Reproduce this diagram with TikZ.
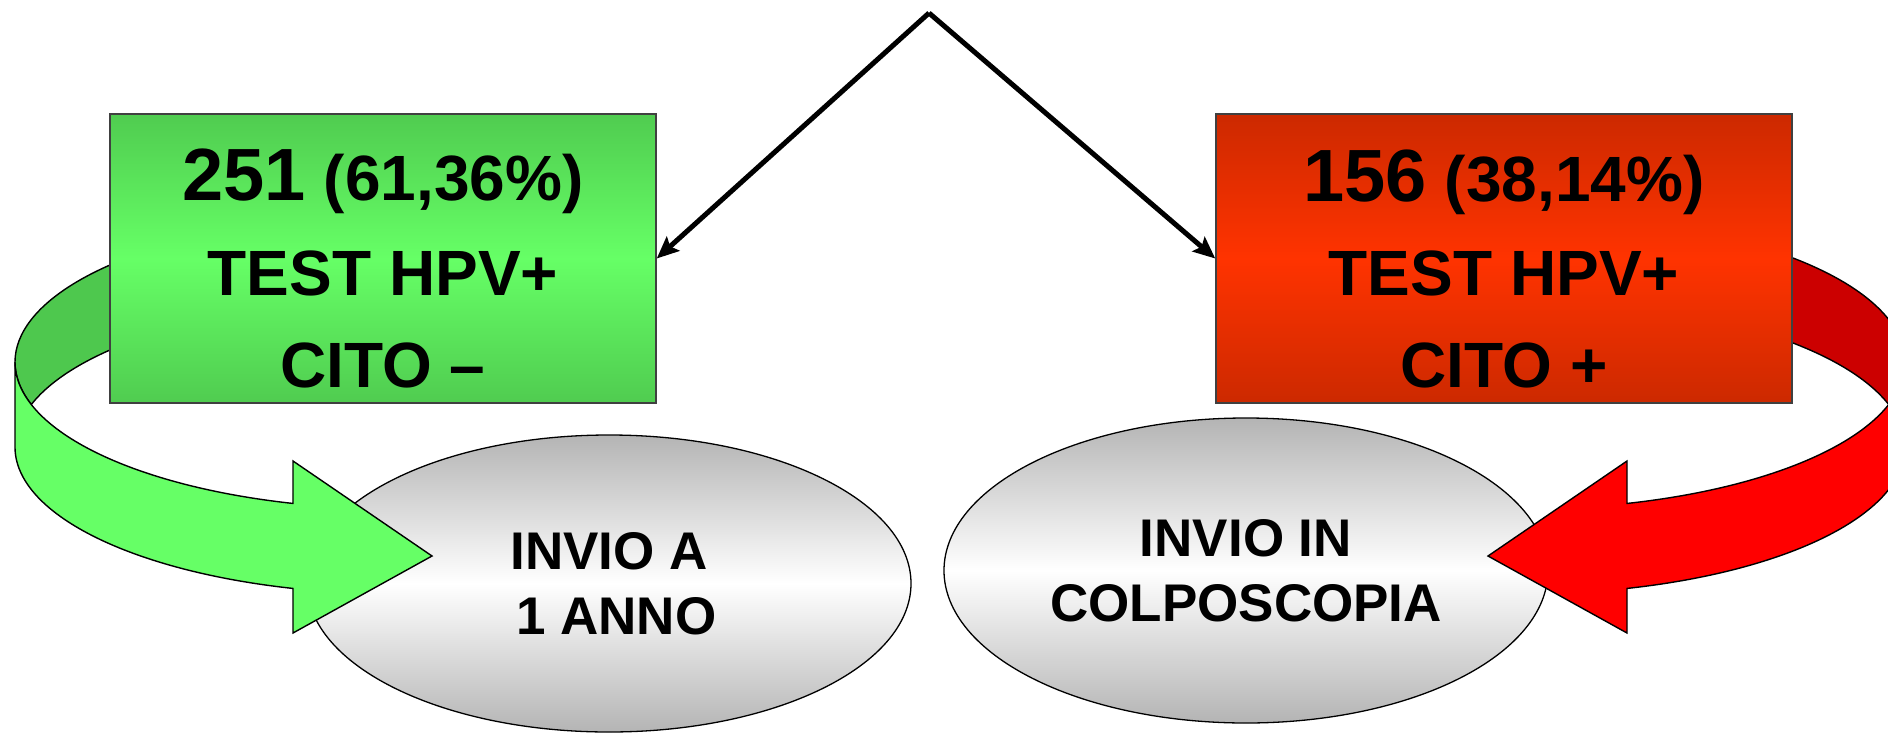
\documentclass[tikz,border=0pt]{standalone}
\usepackage{fontspec}
\setmainfont{Liberation Sans}
\usetikzlibrary{shapes.geometric,arrows.meta,calc}
\definecolor{gtop}{RGB}{80,204,80}
\definecolor{gmid}{RGB}{102,255,102}
\definecolor{gdark}{RGB}{78,200,78}
\definecolor{gfront}{RGB}{102,255,102}
\definecolor{rtop}{RGB}{204,41,0}
\definecolor{rmid}{RGB}{255,51,0}
\definecolor{rdark}{RGB}{204,0,0}
\definecolor{rfront}{RGB}{255,0,0}
\definecolor{elgray}{RGB}{180,180,180}
\begin{document}
\begin{tikzpicture}[x=1pt,y=-1pt,
  box/.style={draw=black!75, line width=1.5pt, rectangle, minimum height=289pt, inner sep=0pt},
  oval/.style={ellipse, draw=black, line width=1.3pt, minimum width=604pt, inner sep=0pt,
    top color=elgray, bottom color=elgray, middle color=white, align=center,
    font=\fontsize{53pt}{64.5pt}\selectfont\bfseries},
  big/.style={font=\fontsize{64pt}{64pt}\selectfont\bfseries, anchor=base, inner sep=0pt},
  ribbon/.style={draw=black, line width=1.4pt, line join=miter},
  conn/.style={line width=5pt, -{Stealth[length=22pt,width=19pt,inset=4pt]}},
  er/.style={x radius=382, y radius=147}
]
\useasboundingbox (0,0) rectangle (1888,734);
\clip (0,0) rectangle (1888,734);

% ribbon centres
\coordinate (LT) at (397,362);
\coordinate (LB) at (397,447);
\coordinate (RT) at (1523,362);
\coordinate (RB) at (1523,447);

% back (dark) faces of the curved arrows
\path[ribbon, fill=gdark] ($(LT)+(230:382 and 147)$) arc[start angle=230, end angle=163.2, er]
  -- ($(LB)+(196.8:382 and 147)$) arc[start angle=196.8, end angle=230, er] -- cycle;
\path[ribbon, fill=rdark] ($(RT)+(-50:382 and 147)$) arc[start angle=-50, end angle=16.8, er]
  -- ($(RB)+(-16.8:382 and 147)$) arc[start angle=-16.8, end angle=-50, er] -- cycle;

% boxes
\node[box, minimum width=546pt, top color=gtop, bottom color=gtop, middle color=gmid] (gbox) at (383,258.5) {};
\node[box, minimum width=576pt, top color=rtop, bottom color=rtop, middle color=rmid] (rbox) at (1504,258.5) {};

% ellipses
\node[oval, minimum height=297pt] (ell1) at (609,583.5) {INVIO A\\\kern0.278em 1 ANNO};
\node[oval, minimum height=305pt] (ell2) at (1246,570.5) {INVIO IN\\COLPOSCOPIA};

% front faces of the curved arrows
\path[ribbon, fill=gfront] ($(LT)+(180:382 and 147)$) arc[start angle=180, end angle=105.8, er]
  -- (293,461) -- (432,556) -- (293,633)
  -- ($(LB)+(105.8:382 and 147)$) arc[start angle=105.8, end angle=180, er] -- cycle;
\path[ribbon, fill=rfront] ($(RT)+(0:382 and 147)$) arc[start angle=0, end angle=74.2, er]
  -- (1627,461) -- (1488,556) -- (1627,633)
  -- ($(RB)+(74.2:382 and 147)$) arc[start angle=74.2, end angle=0, er] -- cycle;

% box texts
\node[big] (g1) at (383,200) {{\fontsize{74pt}{74pt}\selectfont 251} (61,36\%)};
\node[big] (g2) at (383,295) {TEST HPV+};
\node[big] (g3) at (383,387) {CITO \textendash};
\node[big] (r1) at (1504,201) {{\fontsize{74pt}{74pt}\selectfont 156} (38,14\%)};
\node[big] (r2) at (1504,295) {TEST HPV+};
\node[big] (r3) at (1504,387) {CITO +};

% connectors
\coordinate (apex) at (929,13);
\draw[conn] (apex) -- (gbox.east);
\draw[conn] (apex) -- (rbox.west);
\end{tikzpicture}
\end{document}
